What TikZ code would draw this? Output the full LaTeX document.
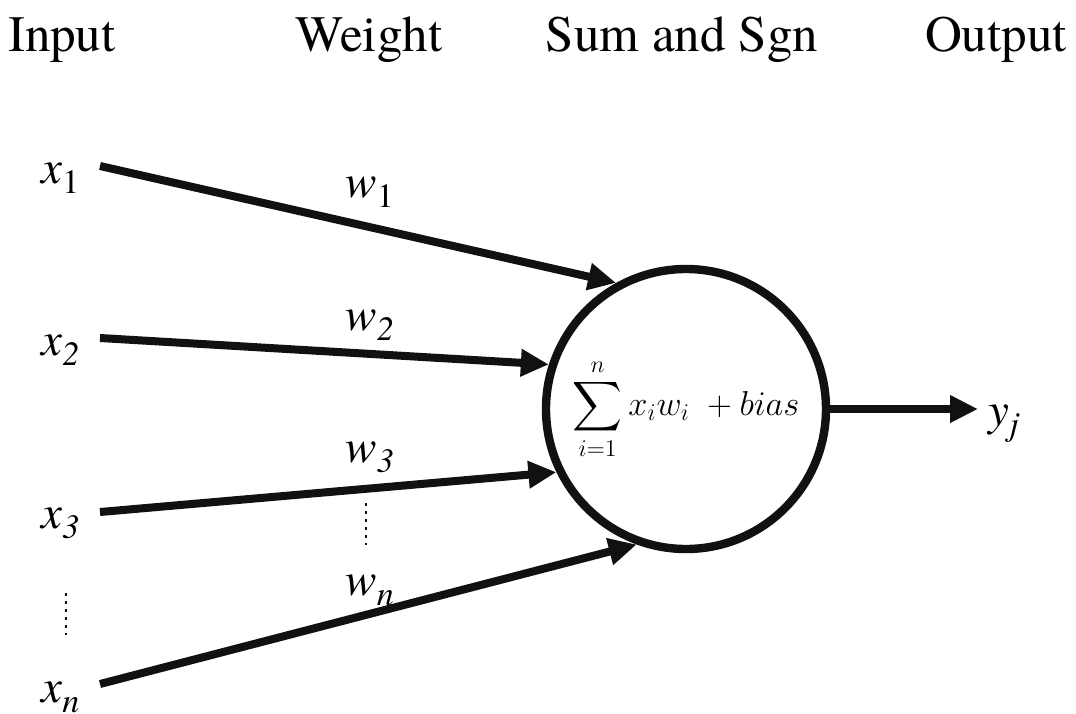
\documentclass[tikz,border=0pt]{standalone}
\usepackage{fontspec}
\setmainfont{texgyretermes}[
  Extension=.otf,
  UprightFont=*-regular,
  ItalicFont=*-italic,
  BoldFont=*-bold,
  BoldItalicFont=*-bolditalic]
\usepackage{amsmath}
\usetikzlibrary{arrows.meta, positioning}
\definecolor{inkK}{HTML}{111111}
\newcommand{\vsub}[2]{\textit{#1}\raisebox{-5pt}{\fontsize{17}{17}\selectfont #2}}
\tikzset{
  heading/.style={anchor=base, font=\fontsize{25.5}{30}\selectfont, inner sep=0pt},
  varlabel/.style={anchor=base west, font=\fontsize{23.5}{28}\selectfont,
    inner sep=0pt},
  neuron/.style={circle, draw=inkK, line width=4.2pt, minimum size=140pt,
    inner sep=0pt, font=\fontsize{18}{22}\selectfont},
  synapse/.style={-{Triangle[length=14pt,width=13pt]}, line width=4pt, inkK},
  vdots/.style={inkK, line width=1.4pt, dash pattern=on 1.4pt off 2.6pt},
}

\begin{document}
\begin{tikzpicture}[x=0.5pt, y=-0.5pt]
  \useasboundingbox (0,0) rectangle (1076,713);
  % column titles
  \node[heading] (hin)  at (62,51)  {Input};
  \node[heading] (hw)   at (369,51) {Weight};
  \node[heading] (hsum) at (682,51) {Sum and Sgn};
  \node[heading] (hout) at (996,51) {Output};

  % the summing unit
  \node[neuron] (neuron) at (686,409)
    {\makebox[0pt]{$\displaystyle\sum_{i=1}^{n} x_i w_i\; + bias$}};

  % inputs
  \node[varlabel] (x1) at (41,183) {\vsub{x}{1}};
  \node[varlabel] (x2) at (41,355) {\vsub{x}{\textit{2}}};
  \node[varlabel] (x3) at (41,528) {\vsub{x}{\textit{3}}};
  \node[varlabel] (xn) at (41,702) {\vsub{x}{\textit{n}}};
  \coordinate (s1) at (100,166);
  \coordinate (s2) at (100,338);
  \coordinate (s3) at (100,512);
  \coordinate (sn) at (100,684);

  % weights
  \node[varlabel] (w1) at (345,197) {\vsub{w}{1}};
  \node[varlabel] (w2) at (345,330) {\vsub{w}{\textit{2}}};
  \node[varlabel] (w3) at (345,462) {\vsub{w}{\textit{3}}};
  \node[varlabel] (wn) at (345,595) {\vsub{w}{\textit{n}}};

  \foreach \i/\ang in {1/119, 2/162, 3/206, n/250}
    \draw[synapse] (s\i) -- (neuron.\ang);

  % skipped terms
  \draw[vdots] (66,593) -- (66,635);
  \draw[vdots] (366,503) -- (366,545);

  % output
  \node[varlabel] (yj) at (988,425) {\vsub{y}{\textit{j}}};
  \coordinate (out) at (978,409);
  \draw[synapse] (neuron.east) -- (out);
\end{tikzpicture}
\end{document}
